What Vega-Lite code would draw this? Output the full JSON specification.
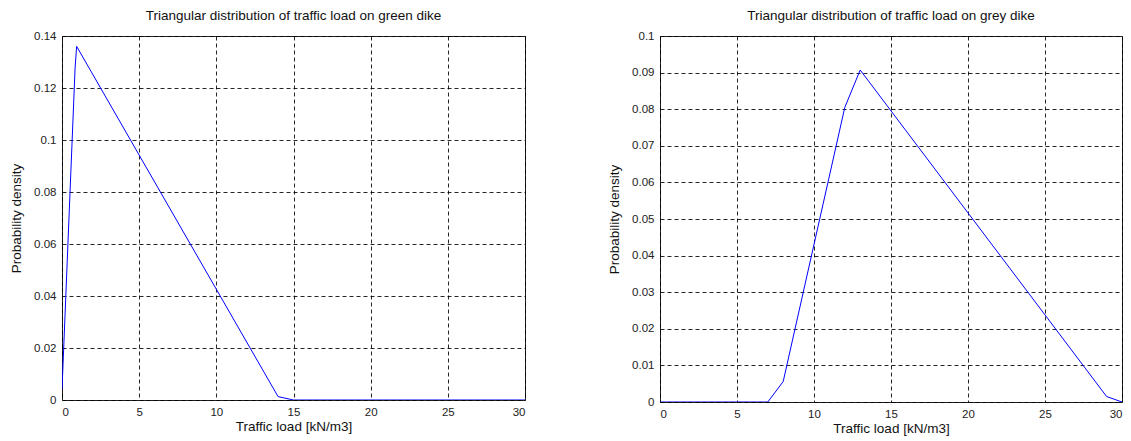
{
  "$schema": "https://vega.github.io/schema/vega-lite/v6.json",
  "autosize": {"type": "pad"},
  "padding": {"left": 9, "top": 8, "right": 0, "bottom": 0},
  "background": "white",
  "bounds": "flush",
  "spacing": 135,
  "config": {
    "font": "Liberation Sans",
    "view": {"stroke": "#222", "strokeWidth": 1},
    "title": {"fontSize": 13.5, "fontWeight": "normal", "color": "#111", "offset": 8, "font": "Liberation Sans"},
    "axis": {
      "grid": true, "gridColor": "#000", "gridDash": [4, 3], "gridOpacity": 0.85, "gridWidth": 1,
      "ticks": false, "domain": false,
      "labelFont": "Liberation Sans", "labelFontSize": 11.5, "labelColor": "#222",
      "titleFont": "Liberation Sans", "titleFontSize": 13.5, "titleFontWeight": "normal", "titleColor": "#111",
      "labelPadding": 6
    }
  },
  "datasets": {
    "green": [
      {"x": 0, "y": 0.004},
      {"x": 0.85, "y": 0.128},
      {"x": 0.95, "y": 0.136},
      {"x": 14, "y": 0.0013},
      {"x": 15, "y": 0},
      {"x": 30, "y": 0}
    ],
    "grey": [
      {"x": 0, "y": 0},
      {"x": 7, "y": 0},
      {"x": 8, "y": 0.0056},
      {"x": 12, "y": 0.0805},
      {"x": 13, "y": 0.0907},
      {"x": 29, "y": 0.0015},
      {"x": 30, "y": 0}
    ]
  },
  "hconcat": [
    {
      "width": 463,
      "height": 364,
      "title": "Triangular distribution of traffic load on green dike",
      "data": {"name": "green"},
      "mark": {"type": "line", "color": "#0000ff", "strokeWidth": 1, "clip": true},
      "encoding": {
        "x": {"field": "x", "type": "quantitative", "title": "Traffic load [kN/m3]",
              "scale": {"domain": [0, 30], "nice": false},
              "axis": {"values": [0, 5, 10, 15, 20, 25, 30], "titlePadding": 2}},
        "y": {"field": "y", "type": "quantitative", "title": "Probability density",
              "scale": {"domain": [0, 0.14], "nice": false},
              "axis": {"values": [0, 0.02, 0.04, 0.06, 0.08, 0.1, 0.12, 0.14], "format": "~g", "titlePadding": 10}}
      }
    },
    {
      "width": 462,
      "height": 366,
      "title": "Triangular distribution of traffic load on grey dike",
      "data": {"name": "grey"},
      "mark": {"type": "line", "color": "#0000ff", "strokeWidth": 1, "clip": true},
      "encoding": {
        "x": {"field": "x", "type": "quantitative", "title": "Traffic load [kN/m3]",
              "scale": {"domain": [0, 30], "nice": false},
              "axis": {"values": [0, 5, 10, 15, 20, 25, 30], "titlePadding": 2}},
        "y": {"field": "y", "type": "quantitative", "title": "Probability density",
              "scale": {"domain": [0, 0.1], "nice": false},
              "axis": {"values": [0, 0.01, 0.02, 0.03, 0.04, 0.05, 0.06, 0.07, 0.08, 0.09, 0.1], "format": "~g", "titlePadding": 10}}
      }
    }
  ]
}
